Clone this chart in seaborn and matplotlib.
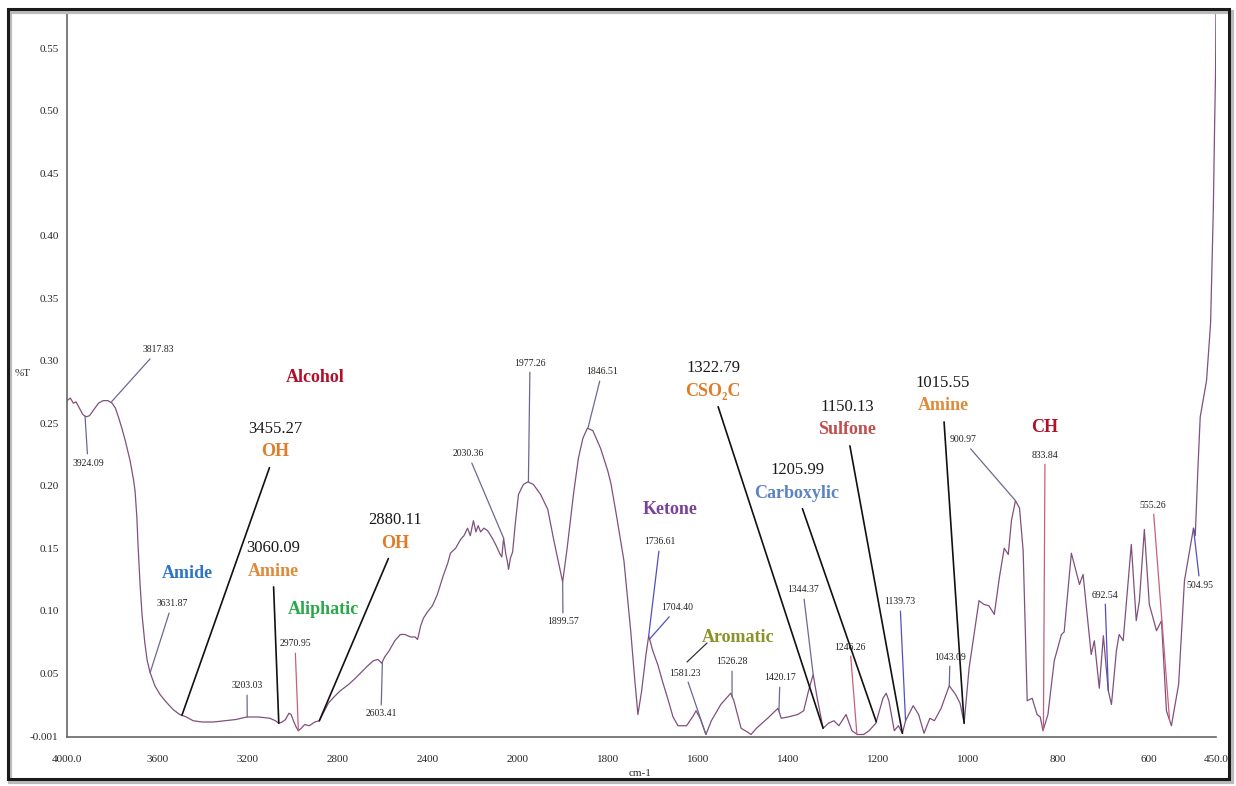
import numpy as np
import pandas as pd
import seaborn as sns
import matplotlib.pyplot as plt
from matplotlib.patches import Rectangle

# FTIR spectrum (cm-1, %T)
wavenumber = [4000, 3985, 3972, 3960, 3945, 3930, 3915, 3900, 3880, 3860, 3840, 3818, 3800, 3785,
              3770, 3755, 3740, 3720, 3705, 3698, 3690, 3684, 3676, 3667, 3655, 3644, 3632, 3610,
              3587, 3560, 3529, 3500, 3470, 3440, 3400, 3350, 3300, 3250, 3203, 3150, 3100, 3075,
              3060, 3045, 3030, 3015, 3005, 2995, 2983, 2973, 2960, 2945, 2925, 2900, 2880, 2860,
              2840, 2815, 2787, 2750, 2720, 2698, 2665, 2640, 2620, 2603, 2590, 2570, 2545, 2520,
              2500, 2475, 2455, 2444, 2430, 2418, 2400, 2378, 2356, 2330, 2310, 2298, 2275, 2253,
              2238, 2222, 2210, 2196, 2185, 2175, 2164, 2150, 2133, 2112, 2095, 2080, 2070, 2062,
              2052, 2046, 2040, 2032, 2022, 2010, 1998, 1987, 1977, 1965, 1949, 1933, 1920, 1910,
              1900, 1890, 1876, 1865, 1855, 1845, 1833, 1816, 1800, 1793, 1780, 1764, 1749, 1740,
              1733, 1725, 1715, 1709, 1700, 1689, 1678, 1667, 1655, 1644, 1625, 1610, 1604, 1595,
              1582, 1570, 1549, 1527, 1520, 1504, 1490, 1482, 1470, 1445, 1422, 1415, 1400, 1378,
              1365, 1355, 1344, 1335, 1322, 1310, 1298, 1287, 1271, 1258, 1246, 1232, 1220, 1205,
              1189, 1182, 1176, 1164, 1155, 1146, 1139, 1122, 1110, 1098, 1085, 1075, 1060, 1042,
              1028, 1018, 1009, 998, 987, 976, 965, 954, 942, 931, 920, 911, 904, 895, 886, 878,
              869, 858, 847, 840, 834, 823, 809, 793, 787, 771, 753, 745, 727, 720, 709, 700, 689,
              682, 671, 665, 656, 638, 627, 620, 609, 598, 582, 571, 560, 549, 533, 520, 500, 496,
              490, 485, 471, 462, 456, 453, 451, 450]
transmittance = [0.268, 0.270, 0.266, 0.267, 0.262, 0.257, 0.255, 0.256, 0.261, 0.266, 0.268, 0.268,
                 0.266, 0.262, 0.254, 0.245, 0.235, 0.220, 0.205, 0.196, 0.175, 0.150, 0.122, 0.097,
                 0.075, 0.060, 0.051, 0.040, 0.033, 0.027, 0.021, 0.017, 0.015, 0.012, 0.011, 0.011,
                 0.012, 0.013, 0.015, 0.015, 0.014, 0.012, 0.010, 0.011, 0.013, 0.018, 0.017, 0.012,
                 0.007, 0.004, 0.006, 0.009, 0.008, 0.011, 0.012, 0.019, 0.026, 0.031, 0.036, 0.041,
                 0.046, 0.050, 0.056, 0.060, 0.061, 0.058, 0.063, 0.068, 0.076, 0.081, 0.081, 0.079,
                 0.079, 0.077, 0.088, 0.094, 0.099, 0.104, 0.113, 0.128, 0.138, 0.146, 0.150, 0.157,
                 0.160, 0.166, 0.160, 0.172, 0.163, 0.168, 0.163, 0.166, 0.164, 0.158, 0.152, 0.146,
                 0.143, 0.158, 0.145, 0.140, 0.133, 0.142, 0.147, 0.170, 0.193, 0.201, 0.203, 0.201,
                 0.193, 0.181, 0.157, 0.140, 0.123, 0.150, 0.193, 0.222, 0.238, 0.246, 0.244, 0.230,
                 0.212, 0.202, 0.175, 0.140, 0.084, 0.045, 0.017, 0.035, 0.065, 0.080, 0.068, 0.057,
                 0.043, 0.030, 0.015, 0.008, 0.008, 0.016, 0.020, 0.014, 0.001, 0.012, 0.025, 0.034,
                 0.028, 0.006, 0.003, 0.001, 0.006, 0.014, 0.022, 0.014, 0.015, 0.017, 0.020, 0.035,
                 0.049, 0.030, 0.006, 0.010, 0.012, 0.008, 0.017, 0.004, 0.001, 0.001, 0.004, 0.010,
                 0.030, 0.034, 0.028, 0.004, 0.008, 0.002, 0.012, 0.024, 0.017, 0.002, 0.014, 0.012,
                 0.022, 0.040, 0.033, 0.026, 0.010, 0.054, 0.081, 0.108, 0.105, 0.104, 0.097, 0.126,
                 0.150, 0.145, 0.172, 0.188, 0.182, 0.148, 0.028, 0.030, 0.017, 0.015, 0.004, 0.017,
                 0.060, 0.081, 0.083, 0.146, 0.121, 0.129, 0.065, 0.076, 0.038, 0.080, 0.036, 0.025,
                 0.068, 0.081, 0.076, 0.153, 0.092, 0.108, 0.165, 0.105, 0.084, 0.092, 0.020, 0.008,
                 0.041, 0.124, 0.166, 0.160, 0.215, 0.255, 0.284, 0.330, 0.420, 0.490, 0.530, 0.585]

x_ticks = [4000, 3600, 3200, 2800, 2400, 2000, 1800, 1600, 1400, 1200, 1000, 800, 600, 450]
x_tick_labels = ["4000.0", "3600", "3200", "2800", "2400", "2000", "1800", "1600", "1400",
                 "1200", "1000", "800", "600", "450.0"]
y_ticks = [-0.001, 0.05, 0.10, 0.15, 0.20, 0.25, 0.30, 0.35, 0.40, 0.45, 0.50, 0.55]
y_tick_labels = ["-0.001", "0.05", "0.10", "0.15", "0.20", "0.25", "0.30", "0.35", "0.40",
                 "0.45", "0.50", "0.55"]

# small peak labels: text, wavenumber the leader points at, text position (px), leader colour
peak_labels = [
    ("3817.83", 3805, 158, 350, "#6a6a90"),
    ("3924.09", 3920, 88, 463, "#6a6a90"),
    ("3631.87", 3631, 172, 604, "#6a6a90"),
    ("3203.03", 3200, 247, 686, "#6a6a90"),
    ("2970.95", 2973, 295, 644, "#c8607a"),
    ("2603.41", 2600, 381, 714, "#6a6a90"),
    ("2030.36", 2062, 468, 454, "#6a6a90"),
    ("1977.26", 1976, 530, 363, "#6a6a90"),
    ("1899.57", 1900, 563, 622, "#6a6a90"),
    ("1846.51", 1844, 602, 372, "#6a6a90"),
    ("1736.61", 1709, 660, 542, "#5050c0"),
    ("1704.40", 1707, 677, 608, "#5050c0"),
    ("1581.23", 1582, 685, 673, "#6a6a90"),
    ("1526.28", 1524, 732, 662, "#6a6a90"),
    ("1420.17", 1420, 780, 678, "#6a6a90"),
    ("1344.37", 1344, 803, 590, "#6a6a90"),
    ("1246.26", 1247, 850, 647, "#c8607a"),
    ("1139.73", 1139, 900, 602, "#5050c0"),
    ("1043.09", 1042, 950, 657, "#6a6a90"),
    ("900.97", 895, 963, 440, "#6a6a90"),
    ("833.84", 833, 1045, 455, "#c8607a"),
    ("692.54", 689, 1105, 595, "#5050c0"),
    ("555.26", 553, 1153, 505, "#c8607a"),
    ("504.95", 500, 1200, 585, "#5050c0"),
]

# group labels with a wavenumber above: number, name, colour, wavenumber pointed at, position (px)
group_labels = [
    ("3455.27", "OH", "#e07b28", 3490, 275, 429),
    ("3060.09", "Amine", "#e08a3a", 3060, 273, 548),
    ("2880.11", "OH", "#e07b28", 2880, 395, 520),
    ("1322.79", "CSO\u2082C", "#e07b28", 1322, 713, 368),
    ("1205.99", "Carboxylic", "#5b84c4", 1204, 797, 470),
    ("1150.13", "Sulfone", "#c0504d", 1146, 847, 407),
    ("1015.55", "Amine", "#e08a3a", 1009, 943, 383),
]

# names standing alone
name_labels = [
    ("Alcohol", "#b0102a", 315, 377),
    ("Amide", "#2e75c8", 187, 573),
    ("Aliphatic", "#2aa84a", 323, 610),
    ("Ketone", "#7b3f9e", 670, 510),
    ("Aromatic", "#8a9228", 738, 637),
    ("CH", "#b0102a", 1045, 427),
]

W, H = 1236, 786

sns.set_style("white")
plt.rcParams['font.family'] = ['Liberation Serif', 'DejaVu Serif']

spec = pd.DataFrame({"cm-1": wavenumber, "%T": transmittance})


def fwd(w):
    w = np.asarray(w, dtype=float)
    return np.where(w >= 2000, 2000 + (w - 2000) * 0.5, w)


def inv(p):
    p = np.asarray(p, dtype=float)
    return np.where(p >= 2000, 2000 + (p - 2000) * 2.0, p)


fig = plt.figure(figsize=(W / 100, H / 100), dpi=100)
ax = fig.add_axes([67 / W, 1 - 737 / H, (1216 - 67) / W, (737 - 10) / H])
ax.set_xscale('function', functions=(fwd, inv))

sns.lineplot(data=spec, x="cm-1", y="%T", ax=ax, color="#80507e", linewidth=0.9, sort=False)

ax.set_xlim(4000, 450)
ax.set_ylim(-0.001, 0.5804)
ax.set_xticks(x_ticks)
ax.set_xticklabels(x_tick_labels)
ax.set_yticks(y_ticks)
ax.set_yticklabels(y_tick_labels)
ax.minorticks_off()
ax.tick_params(axis='x', direction='in', length=3, labelsize=8, pad=13, color="#555555")
ax.tick_params(axis='y', direction='out', length=2, labelsize=8, pad=4, color="#555555")
ax.set_xlabel("")
ax.set_ylabel("")
for s in ["top", "right"]:
    ax.spines[s].set_visible(False)
for s in ["left", "bottom"]:
    ax.spines[s].set_color("#666666")
    ax.spines[s].set_linewidth(1.2)

fig.text(23 / W, 1 - 373 / H, "%T", fontsize=8, ha='center', va='center')
fig.text(640 / W, 1 - 774 / H, "cm-1", fontsize=8, ha='center', va='center')

wn_sorted = np.array(wavenumber[::-1], dtype=float)
t_sorted = np.array(transmittance[::-1], dtype=float)


def on_curve(w):
    return float(np.interp(w, wn_sorted, t_sorted))


for text, w, tx, ty, lc in peak_labels:
    ax.annotate(text, xy=(w, on_curve(w)), xycoords='data',
                xytext=(tx, H - ty), textcoords='figure pixels',
                ha='center', va='center', fontsize=7, color="#222222",
                arrowprops=dict(arrowstyle='-', color=lc, lw=0.9, shrinkA=1, shrinkB=0))

for num, name, col, w, tx, ty in group_labels:
    fig.text(tx / W, 1 - ty / H, num, fontsize=12, ha='center', va='center', color="#1a1a1a")
    ax.annotate(name, xy=(w, on_curve(w)), xycoords='data',
                xytext=(tx, H - ty - 23), textcoords='figure pixels',
                ha='center', va='center', fontsize=13, fontweight='bold', color=col,
                arrowprops=dict(arrowstyle='-', color="#111111", lw=1.2, shrinkA=3, shrinkB=0))

for name, col, tx, ty in name_labels:
    fig.text(tx / W, 1 - ty / H, name, fontsize=13, fontweight='bold', ha='center',
             va='center', color=col)

# short leader from "Aromatic" toward the 1581.23 label
ax.annotate("", xy=(687, H - 662), xycoords='figure pixels',
            xytext=(707, H - 643), textcoords='figure pixels',
            arrowprops=dict(arrowstyle='-', color="#333333", lw=0.9, shrinkA=0, shrinkB=0))

# frame around the whole picture
fig.patches.append(Rectangle((10 / W, 1 - 782 / H), (1232 - 10) / W, (782 - 12) / H,
                             transform=fig.transFigure, fill=False, lw=3, ec="#bbbbbb"))
fig.patches.append(Rectangle((8 / W, 1 - 779 / H), (1229 - 8) / W, (779 - 9) / H,
                             transform=fig.transFigure, fill=False, lw=2.2, ec="#1a1a1a"))

fig.savefig("out.png", dpi=100)
